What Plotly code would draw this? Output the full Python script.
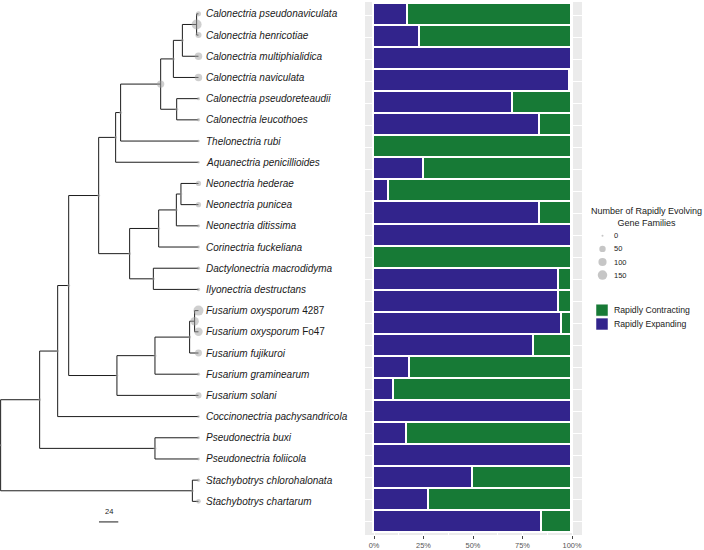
import math
import plotly.graph_objects as go

# ---------------- data ----------------
# phylogeny (branch lengths in tree units; scale bar = 24 units)
NEWICK = (
    "(((((((((((Calonectria_pseudonaviculata:2.3,Calonectria_henricotiae:2.3)nPH:17.7,"
    "Calonectria_multiphialidica:20)nMult:11.2,Calonectria_naviculata:31.2)nNav:15.8,"
    "(Calonectria_pseudoreteaudii:27.1,Calonectria_leucothoes:27.1)nPL:19.9)nCal:49.8,"
    "Thelonectria_rubi:96.8)nA:6.2,Aquanectria_penicillioides:103)nB:21.1,"
    "((((Neonectria_hederae:21.8,Neonectria_punicea:21.8)nNhp:5.7,Neonectria_ditissima:27.5)nNdit:22,"
    "Corinectria_fuckeliana:49.5)nNcor:36.1,"
    "(Dactylonectria_macrodidyma:56.1,Ilyonectria_destructans:56.1)nDI:29.5)nD:38.5)nC:37.3,"
    "((((Fusarium_oxysporum_4287:4.8,Fusarium_oxysporum_Fo47:4.8)nOx:6.2,Fusarium_fujikuroi:11)nFuji:43.1,"
    "Fusarium_graminearum:54.1)nGram:47.3,Fusarium_solani:101.4)nFus:60)nE:13.7,"
    "Coccinonectria_pachysandricola:175.1)nF:22.4,"
    "(Pseudonectria_buxi:54.1,Pseudonectria_foliicola:54.1)nPseudo:143.4)nG:48.5,"
    "(Stachybotrys_chlorohalonata:7.6,Stachybotrys_chartarum:7.6)nStachy:238.4)root;"
)

# number of rapidly evolving gene families at tips and internal nodes
TIP_COUNTS = {
    "Calonectria_pseudonaviculata": 25, "Calonectria_henricotiae": 45,
    "Calonectria_multiphialidica": 80, "Calonectria_naviculata": 80,
    "Calonectria_pseudoreteaudii": 4, "Calonectria_leucothoes": 6,
    "Thelonectria_rubi": 1, "Aquanectria_penicillioides": 1,
    "Neonectria_hederae": 28, "Neonectria_punicea": 28,
    "Neonectria_ditissima": 5, "Corinectria_fuckeliana": 2,
    "Dactylonectria_macrodidyma": 4, "Ilyonectria_destructans": 6,
    "Fusarium_oxysporum_4287": 170, "Fusarium_oxysporum_Fo47": 110,
    "Fusarium_fujikuroi": 65, "Fusarium_graminearum": 4,
    "Fusarium_solani": 45, "Coccinonectria_pachysandricola": 1,
    "Pseudonectria_buxi": 2, "Pseudonectria_foliicola": 2,
    "Stachybotrys_chlorohalonata": 6, "Stachybotrys_chartarum": 18,
}
NODE_COUNTS = {
    "nPH": 170, "nMult": 3, "nNav": 3, "nPL": 3, "nCal": 75, "nA": 3, "nB": 2,
    "nC": 3, "nD": 2, "nNcor": 3, "nNdit": 2, "nNhp": 2, "nDI": 3, "nE": 3,
    "nFus": 2, "nGram": 3, "nFuji": 3, "nOx": 110, "nF": 2, "nG": 2,
    "nPseudo": 3, "nStachy": 3, "root": 0,
}

# stacked bars (percent), top to bottom
PCT_EXPANDING = [17, 23, 100, 99, 70, 84, 0, 25, 7.5, 84, 100, 0,
                 93.5, 93.3, 95, 81, 18, 10, 100, 16.7, 100, 50, 28, 85]
PCT_CONTRACTING = [83, 77, 0, 1, 30, 16, 100, 75, 92.5, 16, 0, 100,
                   6.5, 6.7, 5, 19, 82, 90, 0, 83.3, 0, 50, 72, 15]

X_TICKS = [0, 25, 50, 75, 100]
X_TICK_LABELS = ["0%", "25%", "50%", "75%", "100%"]
SIZE_LEGEND_VALUES = [0, 50, 100, 150]
SCALE_BAR_LEN = 24

PURPLE = "#32248C"
GREEN = "#177A36"
DOT = "rgba(160,160,160,0.72)"
FONT = "Liberation Sans, Arial, sans-serif"


# ---------------- tree parsing / layout ----------------
def parse_newick(s):
    s = s.strip().rstrip(";")
    pos = 0

    def node():
        nonlocal pos
        children = []
        if s[pos] == "(":
            pos += 1
            while True:
                children.append(node())
                if s[pos] == ",":
                    pos += 1
                    continue
                if s[pos] == ")":
                    pos += 1
                    break
        start = pos
        while pos < len(s) and s[pos] not in ",()":
            pos += 1
        name, _, bl = s[start:pos].partition(":")
        return {"name": name, "bl": float(bl) if bl else 0.0, "children": children}

    return node()


tree = parse_newick(NEWICK)
tips = []
nodes = []


def layout(n, depth):
    n["x"] = depth + n["bl"]
    if not n["children"]:
        n["y"] = len(tips)
        tips.append(n)
    else:
        for c in n["children"]:
            layout(c, n["x"])
        n["y"] = (n["children"][0]["y"] + n["children"][-1]["y"]) / 2
    nodes.append(n)


layout(tree, 0.0)

lx, ly = [], []


def segments(n, parent_x=None):
    if parent_x is not None:
        lx.extend([parent_x, n["x"], None])
        ly.extend([n["y"], n["y"], None])
    if n["children"]:
        lx.extend([n["x"], n["x"], None])
        ly.extend([n["children"][0]["y"], n["children"][-1]["y"], None])
        for c in n["children"]:
            segments(c, n["x"])


segments(tree)


def dot_size(v):
    return 2.0 + 7.5 * math.sqrt(v / 150.0)


def count_of(n):
    return TIP_COUNTS.get(n["name"], NODE_COUNTS.get(n["name"], 0))


def tip_label(name):
    w = name.split("_")
    lab = "<i>" + " ".join(w[:2]) + "</i>"
    if len(w) > 2:
        lab += " " + " ".join(w[2:])
    return lab


TIP_NAMES = [t["name"] for t in tips]

# ---------------- figure ----------------
fig = go.Figure()

# tree branches
fig.add_trace(go.Scatter(x=lx, y=ly, mode="lines", line=dict(color="#1c1c1c", width=1),
                         xaxis="x", yaxis="y", hoverinfo="skip", showlegend=False))
# node/tip circles
fig.add_trace(go.Scatter(
    x=[n["x"] for n in nodes], y=[n["y"] for n in nodes], mode="markers",
    marker=dict(size=[dot_size(count_of(n)) for n in nodes], color=DOT, line=dict(width=0)),
    xaxis="x", yaxis="y", hoverinfo="skip", showlegend=False))

annotations = []
for t in tips:
    annotations.append(dict(
        x=t["x"] + 7.0, y=t["y"], xref="x", yref="y", text=tip_label(t["name"]),
        showarrow=False, xanchor="left", yanchor="middle",
        font=dict(family=FONT, size=10, color="#1a1a1a")))

# scale bar
SB_X0 = 122.3
SB_Y = 23.97
fig.add_trace(go.Scatter(x=[SB_X0, SB_X0 + SCALE_BAR_LEN], y=[SB_Y, SB_Y], mode="lines",
                         line=dict(color="#1c1c1c", width=1), xaxis="x", yaxis="y",
                         hoverinfo="skip", showlegend=False))
annotations.append(dict(x=SB_X0 + SCALE_BAR_LEN / 2, y=SB_Y - 0.5, xref="x", yref="y",
                        text=str(SCALE_BAR_LEN), showarrow=False, xanchor="center",
                        yanchor="middle", font=dict(family=FONT, size=7.5, color="#1a1a1a")))

# stacked bars
fig.add_trace(go.Bar(y=TIP_NAMES, x=PCT_EXPANDING, orientation="h", name="Rapidly Expanding",
                     marker=dict(color=PURPLE, line=dict(color="white", width=1.6)),
                     xaxis="x2", yaxis="y2", showlegend=False, hoverinfo="skip"))
fig.add_trace(go.Bar(y=TIP_NAMES, x=PCT_CONTRACTING, orientation="h", name="Rapidly Contracting",
                     marker=dict(color=GREEN, line=dict(color="white", width=1.6)),
                     xaxis="x2", yaxis="y2", showlegend=False, hoverinfo="skip"))

# ---------------- legends (drawn on overlay axis in pixel units) ----------------
annotations.append(dict(x=646, y=219, xref="x3", yref="y3",
                        text="Number of Rapidly Evolving<br>Gene Families", showarrow=False,
                        xanchor="center", yanchor="middle", align="center",
                        font=dict(family=FONT, size=9, color="#1a1a1a")))
leg_y = [238 + 13.2 * i for i in range(len(SIZE_LEGEND_VALUES))]
fig.add_trace(go.Scatter(x=[602.5] * len(SIZE_LEGEND_VALUES), y=leg_y, mode="markers",
                         marker=dict(size=[dot_size(v) for v in SIZE_LEGEND_VALUES],
                                     color="rgba(160,160,160,0.85)", line=dict(width=0)),
                         xaxis="x3", yaxis="y3", hoverinfo="skip", showlegend=False))
for v, yy in zip(SIZE_LEGEND_VALUES, leg_y):
    annotations.append(dict(x=612, y=yy, xref="x3", yref="y3", text=str(v), showarrow=False,
                            xanchor="left", yanchor="middle",
                            font=dict(family=FONT, size=7.5, color="#1a1a1a")))

shapes = [
    # grey panel behind bars
    dict(type="rect", xref="x2 domain", yref="y2 domain", x0=0, x1=1, y0=0, y1=1,
         fillcolor="#EBEBEB", line=dict(width=0), layer="below"),
]
fill_items = [("Rapidly Contracting", GREEN), ("Rapidly Expanding", PURPLE)]
for i, (lab, col) in enumerate(fill_items):
    y0 = 307 + 14 * i
    shapes.append(dict(type="rect", xref="x3", yref="y3", x0=596, x1=608, y0=y0, y1=y0 + 12,
                       fillcolor=col, line=dict(color="white", width=0.5)))
    annotations.append(dict(x=612, y=y0 + 6, xref="x3", yref="y3", text=lab, showarrow=False,
                            xanchor="left", yanchor="middle",
                            font=dict(family=FONT, size=8.7, color="#1a1a1a")))

W, H = 704, 550
PX_PER_UNIT = 19.3 / 24.0
TREE_X0 = -0.8
fig.update_layout(
    width=W, height=H, margin=dict(l=0, r=0, t=0, b=0),
    paper_bgcolor="white", plot_bgcolor="rgba(0,0,0,0)",
    barmode="stack", bargap=0, showlegend=False,
    font=dict(family=FONT),
    xaxis=dict(domain=[0, 0.5], range=[TREE_X0, TREE_X0 + 0.5 * W / PX_PER_UNIT],
               visible=False, anchor="y"),
    yaxis=dict(domain=[0, 1], range=[(H - 14) / 21.39, -14 / 21.39], visible=False, anchor="x"),
    xaxis2=dict(domain=[365 / W, 582 / W], range=[-4.545, 105.05], anchor="y2",
                tickmode="array", tickvals=X_TICKS, ticktext=X_TICK_LABELS,
                ticks="outside", ticklen=3,
                tickcolor="#444", tickwidth=0.7, tickfont=dict(size=7.4, color="#555", family=FONT),
                showgrid=True, gridcolor="white", gridwidth=1, zeroline=False, showline=False,
                minor=dict(tickvals=[12.5, 37.5, 62.5, 87.5], showgrid=True,
                           gridcolor="white", gridwidth=0.5, ticks="")),
    yaxis2=dict(domain=[1 - 540 / H, 1 - 2 / H], anchor="x2", type="category",
                categoryorder="array", categoryarray=TIP_NAMES, range=[23.6, -0.6],
                showticklabels=False, ticks="", showgrid=True, gridcolor="white",
                gridwidth=1, zeroline=False, showline=False),
    xaxis3=dict(domain=[0, 1], range=[0, W], visible=False, anchor="y3", fixedrange=True),
    yaxis3=dict(domain=[0, 1], range=[H, 0], visible=False, anchor="x3", fixedrange=True),
    annotations=annotations,
    shapes=shapes,
)

fig.write_html("out.html", config={"displayModeBar": False},
               post_script="document.body.style.margin='0';document.body.style.overflow='hidden';")
